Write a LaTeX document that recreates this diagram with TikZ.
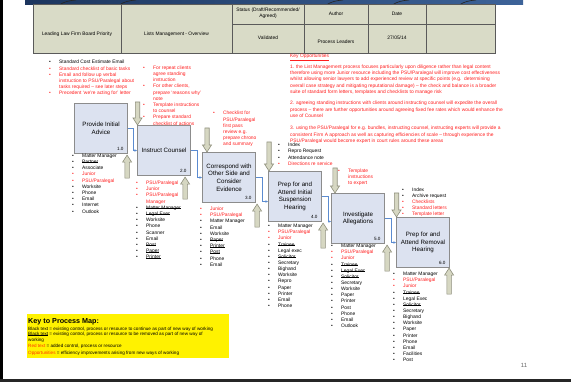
\documentclass[tikz,border=0pt]{standalone}
\usepackage{fontspec}
\setmainfont{Liberation Sans}
\usetikzlibrary{calc,arrows.meta}
\definecolor{boxfill}{HTML}{DCE2F0}
\definecolor{boxline}{HTML}{8C8C8C}
\definecolor{tabfill}{HTML}{D9DBC7}
\definecolor{tabline}{HTML}{5A5A5A}
\definecolor{arrfill}{HTML}{D6D7C2}
\definecolor{arrline}{HTML}{8E8F7C}
\definecolor{conncol}{HTML}{5B8BD0}
\definecolor{txtred}{HTML}{FF1E1E}
\definecolor{oppcol}{HTML}{FF3300}
\definecolor{navyA}{HTML}{1C355E}
\definecolor{navyB}{HTML}{3D6399}
\newsavebox\stkbox
\newcommand\stk[1]{\sbox\stkbox{#1}\rlap{\rule[0.32ex]{\wd\stkbox}{0.4pt}}\usebox\stkbox}
\newcommand\itk[1]{\makebox[10pt][l]{\textbullet}#1}
\newcommand\itr[1]{\color{txtred}\makebox[10pt][l]{\textbullet}#1}
\newcommand\its[1]{\makebox[10pt][l]{\textbullet}\stk{#1}}
\newcommand\itc[1]{\color{txtred}\hspace*{10pt}#1}
\newcommand\itp[1]{\color{txtred}#1}
\newcommand\blist[5]{\foreach \ty/\tx [count=\i from 0] in {#5}{\node[lsttxt] (#1-\i) at (#2,{#3+1.6+\i*#4}) {\csname it\ty\endcsname{\tx}};}}
\begin{document}
\begin{tikzpicture}[x=1pt,y=-1pt,
  lsttxt/.style={anchor=base west, inner sep=0pt, font=\fontsize{4.9}{6}\selectfont},
  hdr/.style={inner sep=0pt, font=\fontsize{4.9}{6}\selectfont, align=center},
  proc/.style={draw=boxline, line width=1.1pt, fill=boxfill, minimum width=53pt, minimum height=50pt,
    inner sep=1pt, align=center, anchor=north west, font=\fontsize{6.2}{7.6}\selectfont},
  numlbl/.style={anchor=south east, inner sep=0pt, font=\fontsize{4.6}{5}\selectfont},
  conn/.style={draw=conncol, line width=0.5pt, -{Stealth[length=2.6pt,width=2.4pt]}},
  bigarr/.style={fill=arrfill, draw=arrline, line width=0.6pt, line join=miter},
  dnarr/.pic={\filldraw[bigarr] (0,0) -- (-4.5,-7) -- (-2.2,-7) -- (-2.2,-#1) -- (2.2,-#1) -- (2.2,-7) -- (4.5,-7) -- cycle;},
  uparr/.pic={\filldraw[bigarr] (0,0) -- (-4.5,7) -- (-2.2,7) -- (-2.2,#1) -- (2.2,#1) -- (2.2,7) -- (4.5,7) -- cycle;},
  keytxt/.style={anchor=base west, inner sep=0pt, font=\fontsize{4.6}{5.5}\selectfont}
]
\useasboundingbox (0,0) rectangle (571,382);
\fill[white] (0,0) rectangle (571,382);
% frame bits
\fill[black] (0,0) rectangle (2.5,382);
\fill[black!85] (0,379.5) rectangle (571,382);
\shade[left color=navyA, right color=navyB] (25,0) rectangle (523,4.5);
\foreach \bx in {60,120,327,393,460}{\draw[black!85, line width=0.6pt] (\bx,4.5) .. controls (\bx+4,2) and (\bx+9,0.5) .. (\bx+16,0);}
% header table
\fill[tabfill] (33,4) rectangle (495,53);
\draw[tabline, line width=0.7pt] (33,4) rectangle (495,53);
\foreach \cx in {121,232,304,368,426}{\draw[tabline, line width=0.7pt] (\cx,4) -- (\cx,53);}
\draw[tabline, line width=0.7pt] (232,24) -- (495,24);
\node[hdr] (h1) at (77,34.5) {Leading Law Firm Board Priority};
\node[hdr] (h2) at (176.5,34.5) {Lists Management - Overview};
\node[hdr] (h3) at (268,13.5) {Status (Draft/Recommended/\\Agreed)};
\node[hdr] (h4) at (268,38) {Validated};
\node[hdr] (h5) at (336,13.5) {Author};
\node[hdr] (h6) at (336,42) {Process Leaders};
\node[hdr] (h7) at (397,13.5) {Date};
\node[hdr] (h8) at (397,38) {27/05/14};
% key opportunities
\node[lsttxt, text=txtred] (ko) at (290,57.5) {\underline{Key Opportunities}};
\blist{pa}{290}{66.7}{6.35}{p/{1. the List Management process focuses particularly upon diligence rather than legal content},
 p/{therefore using more Junior resource including the PSU/Paralegal will improve cost effectiveness},
 p/{whilst allowing senior lawyers to add experienced review at specific points (e.g.\ \ determining},
 p/{overall case strategy and mitigating reputational damage) -- the check and balance is a broader},
 p/{suite of standard form letters, templates and checklists to manage risk}}
\blist{pb}{290}{103.3}{6.35}{p/{2. agreeing standing instructions with clients around instructing counsel will expedite the overall},
 p/{process -- there are further opportunities around agreeing fixed fee rates which would enhance the},
 p/{use of Counsel}}
\blist{pc}{290}{128.3}{6.2}{p/{3. using the PSU/Paralegal for e.g. bundles, instructing counsel, instructing experts will provide a},
 p/{consistent Firm A approach as well as capturing efficiencies of scale -- through experience the},
 p/{PSU/Paralegal would become expert in court rules around these areas}}
% top lists
\blist{la}{49}{62.3}{6.2}{k/{Standard Cost Estimate Email}, r/{Standard checklist of basic tasks}, r/{Email and follow up verbal},
 c/{instruction to PSU/Paralegal about}, c/{tasks required -- see later steps}, r/{Precedent ‘we’re acting for’ letter}}
\blist{lb}{143}{67.7}{6.2}{r/{For repeat clients}, c/{agree standing}, c/{instruction}, r/{For other clients,}, c/{prepare ‘reasons why’},
 c/{note}, r/{Template instructions}, c/{to counsel}, r/{Prepare standard}, c/{checklist of actions}}
\blist{lc}{213}{113.3}{6.2}{r/{Checklist for}, c/{PSU/Paralegal}, c/{first pass}, c/{review e.g.}, c/{prepare chrono}, c/{and summary}}
\blist{ld}{278}{145}{6.3}{k/{Index}, k/{Repro Request}, k/{Attendance note}, r/{Directions re service}}
\blist{le}{338}{171}{6}{r/{Template}, c/{instructions}, c/{to expert}}
\blist{lf}{402}{190}{6}{k/{Index}, k/{Archive request}, r/{Checklists}, r/{Standard letters}, r/{Template letter}}
% process boxes
\node[proc] (b1) at (74,103) {Provide Initial\\Advice};
\node[proc] (b2) at (137,125) {Instruct Counsel};
\node[proc] (b3) at (202,152) {Correspond with\\Other Side and\\Consider\\Evidence};
\node[proc] (b4) at (268,171) {Prep for and\\Attend Initial\\Suspension\\Hearing};
\node[proc] (b5) at (331,193) {Investigate\\Allegations};
\node[proc] (b6) at (396,217) {Prep for and\\Attend Removal\\Hearing};
\foreach \n in {1,...,6}{\node[numlbl] (n\n) at ($(b\n.south east)+(-4.5,-3.5)$) {\n.0};}
% connectors
\draw[conn] (b1.east) -- ++(5,0) |- (b2.west);
\draw[conn] (b2.east) -- ++(6,0) |- (b3.west);
\draw[conn] (b3.east) -- ++(6,0) |- ($(b4.west)+(0,5)$);
\draw[conn] (b4.east) -- ++(6,0) |- ($(b5.west)+(0,3)$);
\draw[conn] (b5.east) -- ++(6,0) |- (b6.west);
% block arrows
\pic (d2) at ($(b2.north west)+(0.5,0)$) {dnarr=23};
\pic (d3) at ($(b3.north west)+(5,0)$) {dnarr=24};
\pic (d4) at ($(b4.north west)+(1,0)$) {dnarr=29};
\pic (d5) at ($(b5.north west)+(4,0)$) {dnarr=25};
\pic (d6) at ($(b6.north west)+(0.5,0)$) {dnarr=24};
\pic (u1) at ($(b1.south east)+(-1,1)$) {uparr=23};
\pic (u2) at ($(b2.south east)+(-6,1)$) {uparr=22};
\pic (u3) at ($(b3.south east)+(1,1)$) {uparr=23};
\pic (u4) at ($(b4.south east)+(1,1)$) {uparr=25};
\pic (u5) at ($(b5.south east)+(2,1)$) {uparr=26};
\pic (u6) at ($(b6.south east)+(-1,0)$) {uparr=26};
% resource lists
\blist{r1}{72}{155.7}{6.2}{k/{Matter Manager}, s/{Partner}, k/{Associate}, r/{Junior}, r/{PSU/Paralegal}, k/{Worksite}, k/{Phone}, k/{Email}, k/{Internet}, k/{Outlook}}
\blist{r2}{136}{183}{6.2}{r/{PSU/Paralegal}, r/{Junior}, r/{PSU/Paralegal}, c/{Manager}, s/{Matter Manager}, s/{Legal Exec}, k/{Worksite}, k/{Phone}, k/{Scanner}, k/{Email}, s/{Post}, s/{Paper}, s/{Printer}}
\blist{r3}{200}{209}{6.2}{r/{Junior}, r/{PSU/Paralegal}, k/{Matter Manager}, k/{Email}, k/{Worksite}, s/{Paper}, s/{Printer}, s/{Post}, k/{Phone}, k/{Email}}
\blist{r4}{268}{226}{6.15}{k/{Matter Manager}, r/{PSU/Paralegal}, r/{Junior}, s/{Trainee}, k/{Legal exec}, s/{Solicitor}, k/{Secretary}, k/{Bighand}, k/{Worksite}, k/{Repro}, k/{Paper}, k/{Printer}, k/{Email}, k/{Phone}}
\blist{r5}{331}{246}{6.15}{k/{Matter Manager}, r/{PSU/Paralegal}, r/{Junior}, s/{Trainee}, s/{Legal Exec}, s/{Solicitor}, k/{Secretary}, k/{Worksite}, k/{Paper}, k/{Printer}, k/{Post}, k/{Phone}, k/{Email}, k/{Outlook}}
\blist{r6}{393}{274}{6.15}{k/{Matter Manager}, r/{PSU/Paralegal}, r/{Junior}, s/{Trainee}, k/{Legal Exec}, s/{Solicitor}, k/{Secretary}, k/{Bighand}, k/{Worksite}, k/{Paper}, k/{Printer}, k/{Phone}, k/{Email}, k/{Facilities}, k/{Post}}
% key
\fill[yellow] (27,314) rectangle (229,358);
\node[anchor=base west, inner sep=0pt, font=\fontsize{7.2}{8}\selectfont\bfseries] (kt) at (28,323.8) {Key to Process Map:};
\node[keytxt] (k1) at (28,330.3) {Black text = existing control, process or resource to continue as part of new way of working};
\node[keytxt] (k2) at (28,336) {\stk{Black text} = existing control, process or resource to be removed as part of new way of};
\node[keytxt] (k3) at (28,341.7) {working};
\node[keytxt] (k4) at (28,348) {{\color{oppcol}Red text} = added control, process or resource};
\node[keytxt] (k5) at (28,354.3) {{\color{oppcol}Opportunities} = efficiency improvements arising from new ways of working};
% page number
\node[inner sep=0pt, font=\fontsize{6}{7}\selectfont, text=black!60] (pg) at (524,365) {11};
\end{tikzpicture}
\end{document}
